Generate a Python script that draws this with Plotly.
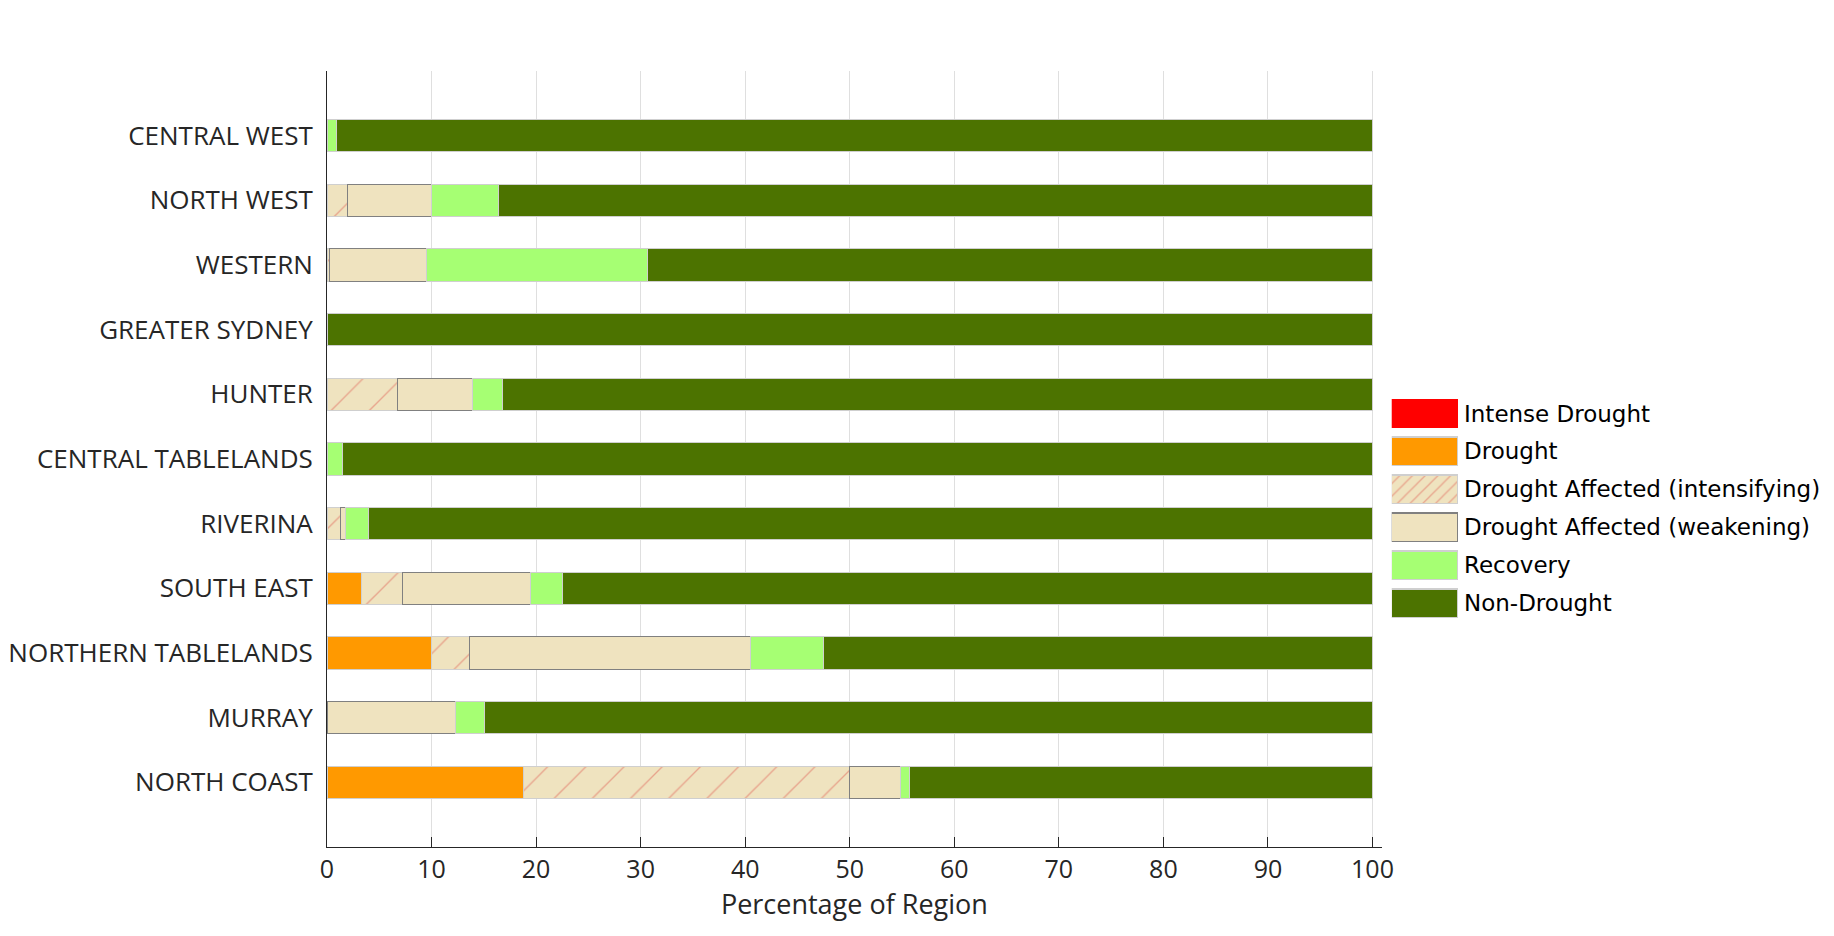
"""
Drought status by region, stacked horizontal bars (percentage of region).
"""

import plotly.graph_objects as go

# ---------------------------------------------------------------------------
# Data, top row first
# ---------------------------------------------------------------------------
regions = [
    "CENTRAL WEST", "NORTH WEST", "WESTERN", "GREATER SYDNEY", "HUNTER",
    "CENTRAL TABLELANDS", "RIVERINA", "SOUTH EAST", "NORTHERN TABLELANDS",
    "MURRAY", "NORTH COAST",
]
intense_drought = [0, 0, 0, 0, 0, 0, 0, 0, 0, 0, 0]
drought = [0, 0, 0, 0, 0, 0, 0, 3.3, 10.0, 0, 18.8]
affected_intensifying = [0, 2.0, 0.2, 0, 6.7, 0, 1.3, 3.9, 3.6, 0, 31.2]
affected_weakening = [0, 8.0, 9.3, 0, 7.2, 0, 0.45, 12.3, 26.9, 12.3, 4.9]
recovery = [0.9, 6.4, 21.2, 0, 2.9, 1.45, 2.25, 3.05, 7.0, 2.8, 0.85]
non_drought = [99.1, 83.6, 69.3, 100, 83.2, 98.55, 96.0, 77.45, 52.5, 84.9, 44.25]

x_ticks = [0, 10, 20, 30, 40, 50, 60, 70, 80, 90, 100]

legend_names = [
    "Intense Drought", "Drought", "Drought Affected (intensifying)",
    "Drought Affected (weakening)", "Recovery", "Non-Drought",
]
legend_swatch = [1, 1, 1, 1, 1, 1]

# ---------------------------------------------------------------------------
# Styling
# ---------------------------------------------------------------------------
BEIGE = "#EFE3BF"
HATCH = "#E8A48C"
EDGE = "#CFCFCF"
EDGE_DARK = "#808080"
AXIS = "#262626"
TICK_FONT = dict(family="Open Sans", size=25, color=AXIS)
YTICK_FONT = dict(family="Open Sans", size=26, color=AXIS)
LEGEND_FONT = dict(family="DejaVu Sans", size=23, color="#000000")

series = [
    # name, values, colour, edge, hatched
    ("Intense Drought", intense_drought, "#FF0000", "#FF0000", False),
    ("Drought", drought, "#FF9900", EDGE, False),
    ("Drought Affected (intensifying)", affected_intensifying, BEIGE, EDGE, True),
    ("Drought Affected (weakening)", affected_weakening, BEIGE, EDGE_DARK, False),
    ("Recovery", recovery, "#A6FF73", EDGE, False),
    ("Non-Drought", non_drought, "#4C7300", EDGE, False),
]

fig = go.Figure()

for name, values, colour, edge, hatched in series:
    marker = dict(color=colour, line=dict(color=edge, width=1))
    if hatched:
        marker["pattern"] = dict(shape="/", size=27, solidity=0.05,
                                 fgcolor=HATCH, bgcolor=colour, fillmode="replace")
    fig.add_trace(go.Bar(
        x=values, y=regions, orientation="h", name=name, width=0.5,
        marker=marker, showlegend=False, xaxis="x", yaxis="y",
    ))

# legend drawn as a tiny bar chart so the swatches get MATLAB-like size
for i, (name, values, colour, edge, hatched) in enumerate(series):
    marker = dict(color=colour, line=dict(color=edge, width=1.5))
    if hatched:
        marker["pattern"] = dict(shape="/", size=9, solidity=0.14,
                                 fgcolor=HATCH, bgcolor=colour, fillmode="replace")
    fig.add_trace(go.Bar(
        x=[legend_swatch[i]], y=[legend_names[i]], orientation="h", width=0.75,
        marker=marker, showlegend=False, hoverinfo="skip", xaxis="x2", yaxis="y2",
    ))

# page body adds an 8px offset, so margins are trimmed by that much
fig.update_layout(
    width=1834, height=936, autosize=False,
    margin=dict(l=315, r=0, t=63, b=97),
    paper_bgcolor="white", plot_bgcolor="white",
    barmode="stack",
    xaxis=dict(
        domain=[0, 0.7018], range=[0, 100.89], tickvals=x_ticks,
        ticks="inside", ticklen=10, tickwidth=1, tickcolor=AXIS,
        showline=True, linecolor=AXIS, linewidth=1,
        showgrid=True, gridcolor="#DFDFDF", gridwidth=1, zeroline=False,
        tickfont=TICK_FONT,
        title=dict(text="Percentage of Region", font=dict(family="Open Sans", size=27, color=AXIS),
                   standoff=8),
    ),
    yaxis=dict(
        domain=[0, 1], type="category", categoryorder="array", categoryarray=regions,
        range=[11, -1], showline=True, linecolor=AXIS, linewidth=1,
        ticks="", showgrid=False, zeroline=False, tickfont=YTICK_FONT,
        ticklabelstandoff=8,
    ),
    xaxis2=dict(domain=[0.7084, 0.7525], range=[0, 1], visible=False, anchor="y2"),
    yaxis2=dict(
        domain=[0.2899, 0.5831], anchor="x2", side="right", type="category",
        categoryorder="array", categoryarray=legend_names, range=[5.5, -0.5],
        showline=False, ticks="", showgrid=False, zeroline=False,
        tickfont=LEGEND_FONT, ticklabelstandoff=5,
    ),
)

fig.write_html("out.html")
